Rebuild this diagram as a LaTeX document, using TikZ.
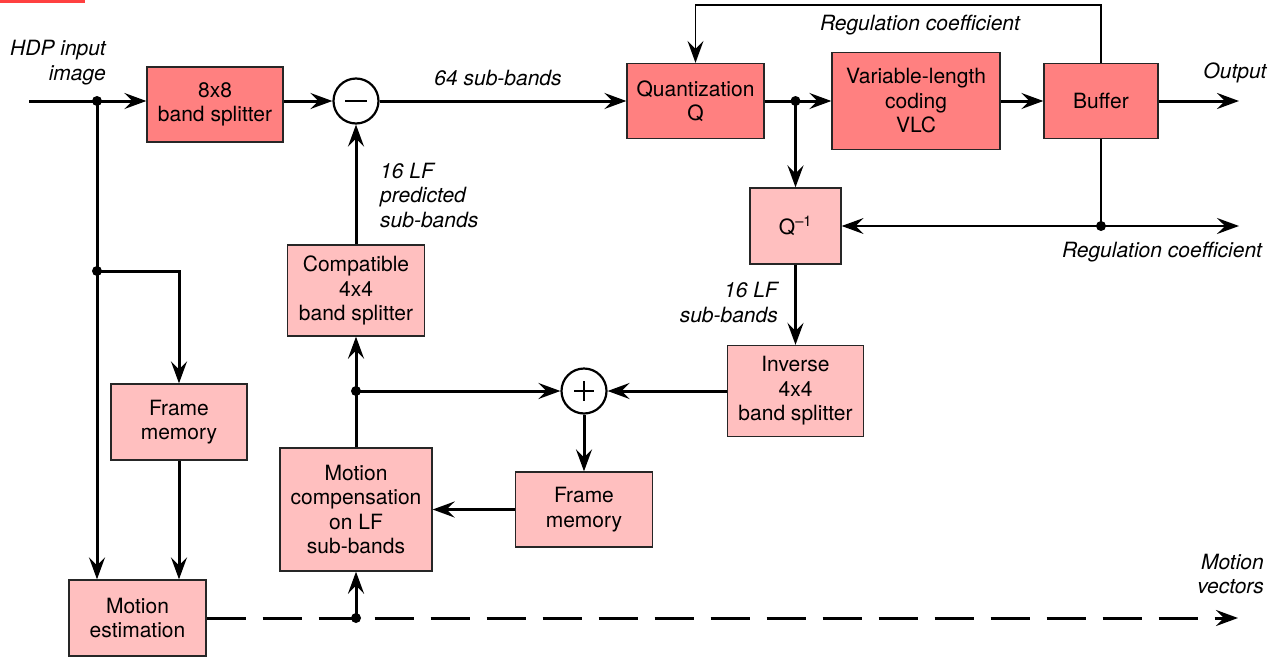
\documentclass[tikz,border=0pt]{standalone}
\usepackage{fontspec}
\setmainfont{TeX Gyre Heros}
\usetikzlibrary{arrows.meta}
\usetikzlibrary{calc}

\begin{document}
\begin{tikzpicture}[x=1pt,y=-1pt,inner sep=0pt,
  font=\fontsize{21}{24.5}\selectfont,
  blk/.style={draw=black!85,line width=1.3pt,align=center},
  dk/.style={blk,fill=red!50},
  lt/.style={blk,fill=red!25},
  op/.style={draw,circle,line width=2.2pt,minimum size=45pt,fill=white},
  tip/.style={-{Stealth[length=22pt,width=16pt,inset=8pt]}},
  sig/.style={line width=3pt},
  fb/.style={line width=1.4pt},
  lbl/.style={font=\fontsize{21}{24.5}\selectfont\itshape}]
\useasboundingbox (0,0) rectangle (1282,659);
\fill[red!75!white] (0,0) rectangle (85,2.5);

% coding path
\node[dk,minimum width=136pt,minimum height=75pt] (bs8) at (215,104.5) {8x8\\band splitter};
\node[op] (minus) at (356,101) {};
\node[dk,minimum width=137pt,minimum height=75pt] (quant) at (695.5,101) {Quantization\\Q};
\node[dk,minimum width=168pt,minimum height=97pt] (vlc) at (916,101) {Variable-length\\coding\\VLC};
\node[dk,minimum width=114pt,minimum height=75pt] (buf) at (1101,101) {Buffer};

% local decoder
\node[lt,minimum width=91pt,minimum height=76pt] (qinv) at (795.5,226) {Q\textsuperscript{--1}};
\node[lt,minimum width=136pt,minimum height=91pt] (inv) at (795.5,391) {Inverse\\4x4\\band splitter};
\node[op] (plus) at (584,391) {};
\node[lt,minimum width=137pt,minimum height=75pt] (fm2) at (584,509.5) {Frame\\memory};
\node[lt,minimum width=152pt,minimum height=123pt] (mc) at (356,509.5) {Motion\\compensation\\on LF\\sub-bands};
\node[lt,minimum width=137pt,minimum height=91pt] (comp) at (356,290.5) {Compatible\\4x4\\band splitter};

% motion estimation
\node[lt,minimum width=136pt,minimum height=76pt] (fm1) at (179,422) {Frame\\memory};
\node[lt,minimum width=137pt,minimum height=76pt] (me) at (137.5,618) {Motion\\estimation};

\draw[line width=2pt] ($(minus)+(-11,0)$) -- ($(minus)+(11,0)$);
\draw[line width=2pt] ($(plus)+(-10,0)$) -- ($(plus)+(10,0)$);
\draw[line width=2pt] ($(plus)+(0,-10)$) -- ($(plus)+(0,10)$);

\coordinate (in) at (29,101);
\coordinate (d1) at (97,101);
\coordinate (d2) at (97,271);
\coordinate (dq) at (795.5,101);
\coordinate (out) at (1239,101);
\coordinate (ft) at (695.5,5);
\coordinate (dr) at (1101,226);
\coordinate (rout) at (1239,226);
\coordinate (dm) at (356,391);
\coordinate (dd) at (356,618);
\coordinate (mv) at (1238,618);

\draw[sig,tip] (in) -- (in -| bs8.west);
\draw[sig,tip] (in -| bs8.east) -- (minus);
\draw[sig,tip] (minus) -- (quant);
\draw[sig,tip] (quant) -- (vlc);
\draw[sig,tip] (vlc) -- (buf);
\draw[sig,tip] (buf) -- (out);
\draw[fb,tip] (buf.north) |- (ft) -- (quant.north);
\draw[sig,tip] (dq) -- (qinv);
\draw[fb] (buf.south) -- (dr);
\draw[fb,tip] (dr) -- (qinv);
\draw[fb,tip] (dr) -- (rout);
\draw[sig,tip] (qinv) -- (inv);
\draw[sig,tip] (inv) -- (plus);
\draw[sig,tip] (plus) -- (fm2);
\draw[sig,tip] (fm2) -- (mc);
\draw[sig] (mc) -- (dm);
\draw[sig,tip] (dm) -- (comp);
\draw[sig,tip] (dm) -- (plus);
\draw[sig,tip] (comp) -- (minus);
\draw[sig] (d1) -- (d2);
\draw[sig,tip] (d2) -- (d2 |- me.north);
\draw[sig,tip] (d2) -| (fm1.north);
\draw[sig,tip] (fm1) -- (fm1 |- me.north);
\draw[sig,tip,dash pattern=on 39pt off 17pt] (me) -- (mv);
\draw[sig,tip] (dd) -- (mc);

\foreach \d in {d1,d2,dq,dr,dm,dd}
  \fill (\d) circle (5);

\node[lbl,align=right,anchor=east] (lin) at (106,62.5) {HDP input\\image};
\node[lbl] (lsb) at (498,78) {64 sub-bands};
\node[lbl,align=left,anchor=west] (lpr) at (380,195) {16 LF\\predicted\\sub-bands};
\node[lbl] (lrt) at (920,25) {Regulation coefficient};
\node[lbl] (lout) at (1235,73) {Output};
\node[lbl] (lrb) at (1162,252) {Regulation coefficient};
\node[lbl,align=right,anchor=east] (llf) at (778,302.5) {16 LF\\sub-bands};
\node[lbl,align=right,anchor=east] (lmv) at (1264,574) {Motion\\vectors};
\end{tikzpicture}
\end{document}
